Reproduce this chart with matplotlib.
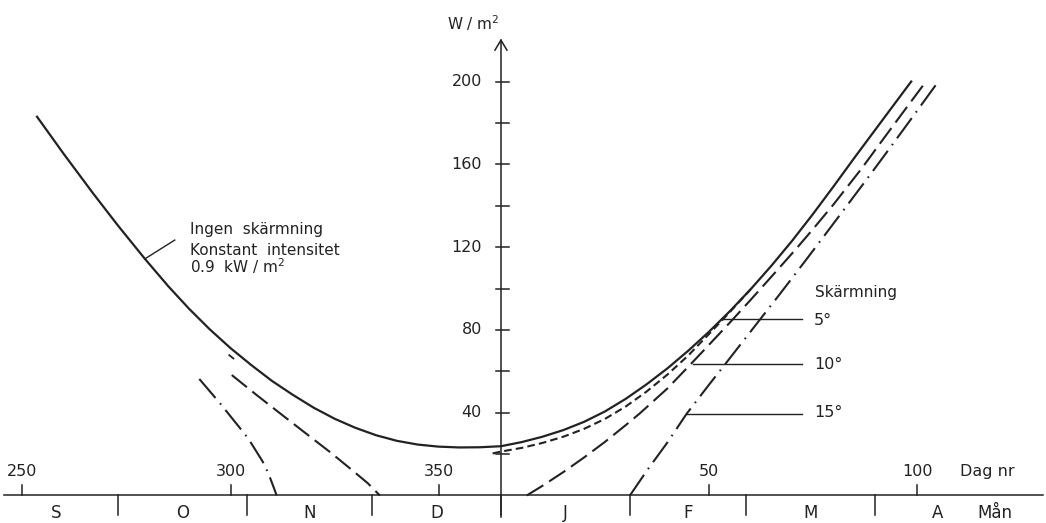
import matplotlib.pyplot as plt

plt.rcParams['font.family'] = ['DejaVu Sans']
plt.rcParams['lines.scale_dashes'] = False

INK = '#222222'

# x = dagar räknat från årsskiftet (hösten negativ: dag nr - 365)
day_ticks = [250, 300, 350, 50, 100]
month_names = ['S', 'O', 'N', 'D', 'J', 'F', 'M', 'A']
month_mid = [258, 288.5, 319, 349.5, 15.5, 45, 74.5, 105]
month_edges = [273, 304, 334, 365, 31, 59, 90]
y_major = [40, 80, 120, 160, 200]
y_minor = [20, 60, 100, 140, 180]

# Ingen skärmning, konstant intensitet 0.9 kW/m2
solid_t = [-111.5, -105, -98, -92, -85.6, -80, -75, -70, -65, -60, -55, -50,
           -45, -40, -35, -30, -25, -20, -15, -10, -5, 0,
           5, 10, 15, 20, 25, 30, 35, 40, 45, 50, 55, 60, 65, 70, 75, 80,
           85, 90, 95, 98.6]
solid_v = [183.0, 164.8, 145.9, 130.3, 114.4, 101.2, 90.3, 80.3, 71.2, 63.0, 55.3, 48.6,
           42.4, 37.1, 32.7, 29.1, 26.4, 24.6, 23.6, 23.2, 23.3, 23.8,
           25.8, 28.4, 31.6, 35.6, 40.6, 46.7, 53.7, 61.4, 69.9, 79.1, 89.0, 99.6,
           111.0, 123.1, 136.0, 149.5, 163.3, 176.8, 190.3, 200.0]

# Skärmning 5 grader
s5_t = [-2.0, 0.0, 5.0, 10.0, 15.0, 20.0, 25.0, 30.0, 35.0, 40.0, 45.0, 50.0, 55.0, 60.0]
s5_v = [20.3, 21.2, 23.0, 25.4, 28.4, 32.2, 37.0, 43.0, 50.2, 58.4, 67.6, 78.0, 88.6, 99.6]
s5_left_t = [-65.3, -64.3]
s5_left_v = [67.8, 66.2]

# Skärmning 10 grader
s10_left_t = [-64.7, -58.7, -53.1, -46.7, -41.1, -35.5, -32.0, -29.1]
s10_left_v = [58.2, 48.5, 39.7, 29.7, 21.0, 11.8, 5.9, 0.0]
s10_t = [6.2, 10, 15, 20, 25, 30, 33.4, 40, 45.4, 50, 55, 60, 65, 70.7,
         75, 80, 86.7, 91, 96, 101.7]
s10_v = [0.0, 4.7, 11.3, 18.4, 25.9, 34.0, 39.7, 51.7, 63.0, 72.8, 83.5, 94.5, 105.7, 118.6,
         128.7, 140.8, 158.0, 169.8, 183.4, 198.8]

# Skärmning 15 grader
s15_left_t = [-72.5, -67.5, -62.7, -60.7, -58.7, -57.3, -55.9, -54.9, -53.9]
s15_left_v = [56.3, 44.5, 32.5, 27.4, 21.0, 16.5, 10.7, 5.4, 0.0]
s15_t = [31.0, 35, 40, 44.6, 50, 55, 60, 67.1, 73.5, 80, 88.3, 93.3, 98, 104.9]
s15_v = [0.0, 11.8, 25.6, 39.4, 53.5, 66.3, 79.2, 97.5, 114.3, 131.6, 153.8, 167.4, 180.3, 199.4]


def dag(d):
    return d - 365 if d > 180 else d


fig = plt.figure(figsize=(10.46, 5.23), dpi=100)
ax = fig.add_axes([0, 0, 1, 1])
ax.set_xlim(-120.4, 131.0)
ax.set_ylim(-13.3, 239.4)
ax.axis('off')

# en pixel i dataenheter
px = 1 / 4.16
py = 1 / 2.07

# axlar
ax.plot([-119.5, 130.3], [0, 0], color=INK, lw=1.1)
ax.plot([0, 0], [-21.5 * py, 220], color=INK, lw=1.1)
ax.plot([-6 * px, 0, 6 * px], [220 - 10 * py, 220, 220 - 10 * py], color=INK, lw=1.1)

for d in day_ticks:
    ax.plot([dag(d), dag(d)], [0, 10 * py], color=INK, lw=1.1)
    ax.text(dag(d), 11.6, str(d), ha='center', va='center', fontsize=11.5, color=INK)
ax.text(110.3, 11.6, 'Dag nr', ha='left', va='center', fontsize=11.5, color=INK)

for d in month_edges:
    ax.plot([dag(d), dag(d)], [0, -20 * py], color=INK, lw=1.1)
for name, d in zip(month_names, month_mid):
    ax.text(dag(d), -8.3, name, ha='center', va='center', fontsize=12, color=INK)
ax.text(114.4, -8.3, 'Mån', ha='left', va='center', fontsize=12, color=INK)

for v in y_major + y_minor:
    ax.plot([-5 * px, 8 * px], [v, v], color=INK, lw=1.1)
for v in y_major:
    ax.text(-19 * px, v, str(v), ha='right', va='center', fontsize=11.5, color=INK)
ax.text(-54 * px, 224.9, r'W / m$^2$', ha='left', va='baseline', fontsize=11, color=INK)

# kurvor
ax.plot(solid_t, solid_v, color=INK, lw=1.6, solid_joinstyle='round')
ax.plot(s5_t, s5_v, color=INK, lw=1.5, dashes=(5.5, 3))
ax.plot(s5_left_t, s5_left_v, color=INK, lw=1.3)
dash10 = (14, 5)
ax.plot(s10_t, s10_v, color=INK, lw=1.5, dashes=dash10)
ax.plot(s10_left_t, s10_left_v, color=INK, lw=1.5, dashes=dash10)
dash15 = (18, 5, 1.2, 5)
ax.plot(s15_t, s15_v, color=INK, lw=1.5, dashes=dash15)
ax.plot(s15_left_t, s15_left_v, color=INK, lw=1.5, dashes=dash15)

# beskrivningar
ax.plot([-85.6, -78.4], [114.3, 123.4], color=INK, lw=1.0)
ax.text(-74.8, 126.3, 'Ingen  skärmning', ha='left', va='baseline', fontsize=11, color=INK)
ax.text(-74.8, 116.2, 'Konstant  intensitet', ha='left', va='baseline', fontsize=11, color=INK)
ax.text(-74.8, 107.5, r'0.9  kW / m$^2$', ha='left', va='baseline', fontsize=11, color=INK)

ax.text(75.4, 95.7, 'Skärmning', ha='left', va='baseline', fontsize=11, color=INK)
for lab, t0, v0, vb in [('5°', 53.4, 85.3, 82.4), ('10°', 46.2, 63.5, 61.1), ('15°', 44.7, 39.4, 37.8)]:
    ax.plot([t0, 72.4], [v0, v0], color=INK, lw=1.0)
    ax.text(75.2, vb, lab, ha='left', va='baseline', fontsize=11.5, color=INK)

fig.savefig('out.png', dpi=100, facecolor='white')
